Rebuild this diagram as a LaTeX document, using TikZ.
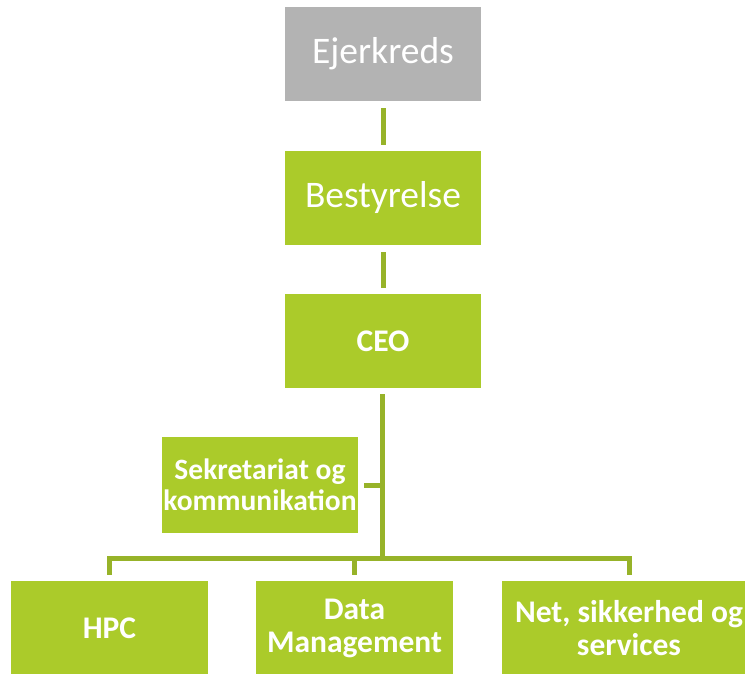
\documentclass[tikz,border=0pt]{standalone}
\usepackage{fontspec}
\setmainfont{Carlito}
\definecolor{boxgreen}{HTML}{ABCB2A}
\definecolor{boxgray}{HTML}{B3B3B3}
\definecolor{linegreen}{HTML}{97B329}
\tikzset{
  orgbox/.style={rectangle, fill=boxgreen, text=white, minimum width=196pt, minimum height=94pt, inner sep=0pt, align=center},
  toptext/.style={font=\fontsize{37.5}{40}\selectfont},
  boldtext/.style={font=\fontsize{31.5}{33}\selectfont\bfseries},
  smalltext/.style={font=\fontsize{29.5}{30.5}\selectfont\bfseries},
  conn/.style={draw=linegreen, line width=5pt},
}
\begin{document}
\begin{tikzpicture}[x=1pt,y=-1pt]
\useasboundingbox (0,0) rectangle (745,674);
\node[orgbox, toptext, fill=boxgray] (ejer) at (383,54) {Ejerkreds};
\node[orgbox, toptext] (best) at (383,198) {Bestyrelse};
\node[orgbox, boldtext] (ceo) at (383,341) {CEO};
\node[orgbox, smalltext, minimum height=96pt] (sek) at (260,485) {Sekretariat og\\kommunikation};
\node[orgbox, boldtext, minimum width=197pt] (hpc) at (109.5,628) {HPC};
\node[orgbox, boldtext, minimum width=197pt] (data) at (354.5,628) {Data\\Management};
\node[orgbox, boldtext, minimum width=254pt] (net) at (629,628) {Net, sikkerhed og\\services};
\coordinate (bus) at (382,558);
\draw[conn, shorten <=7pt, shorten >=6pt] (ejer) -- (best);
\draw[conn, shorten <=7pt, shorten >=6pt] (best) -- (ceo);
\draw[conn, shorten <=6pt] (ceo.south -| bus) -- (bus);
\draw[conn, shorten <=6pt] (sek) -- (sek -| bus);
\draw[conn, shorten <=6pt, shorten >=6pt] (hpc) |- (bus) -| (net);
\draw[conn, shorten >=6pt] (data |- bus) -- (data);
\end{tikzpicture}
\end{document}
